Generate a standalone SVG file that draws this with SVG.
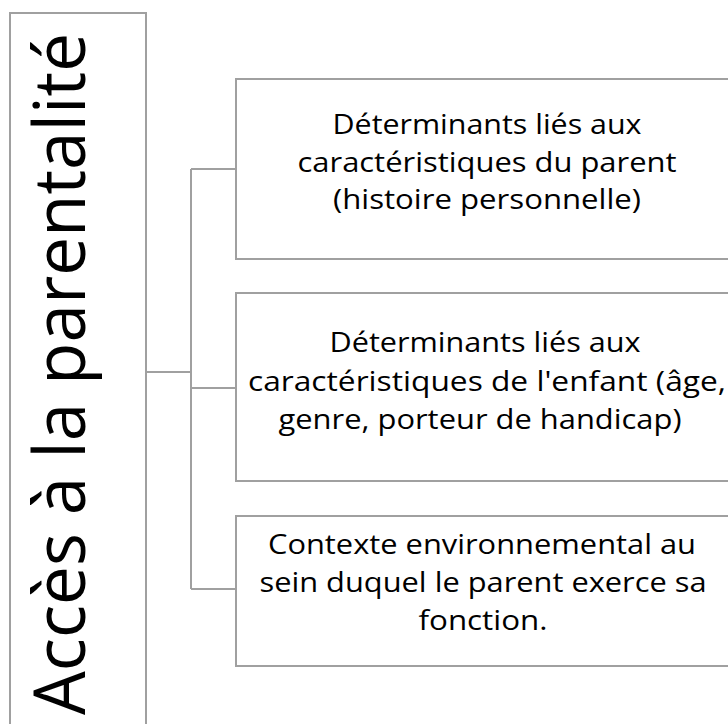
<svg xmlns="http://www.w3.org/2000/svg" width="728" height="724" viewBox="0 0 728 724">
<style>
.box{fill:#ffffff;stroke:#a0a0a0;stroke-width:2}
.conn{fill:none;stroke:#a0a0a0;stroke-width:2}
.t{font-family:"Open Sans","Liberation Sans",sans-serif;font-size:28px;fill:#000000;text-anchor:middle}
.big{font-family:"Open Sans","Liberation Sans",sans-serif;font-size:71px;fill:#000000;text-anchor:middle}
</style>
<rect width="728" height="724" fill="#ffffff"/>
<g id="root">
<rect class="box" x="10" y="13" width="136" height="730"/>
<text class="big" transform="translate(85,374) rotate(-90)" textLength="682" lengthAdjust="spacingAndGlyphs">Accès à la parentalité</text>
</g>
<g id="connectors">
<path class="conn" d="M146,372 H191 M191,169 V589 M191,169 H236 M191,388 H236 M191,589 H236"/>
</g>
<g id="node1">
<rect class="box" x="236" y="79" width="510" height="180"/>
<text class="t" x="487" y="134" textLength="309" lengthAdjust="spacingAndGlyphs">Déterminants liés aux</text>
<text class="t" x="487" y="172" textLength="379" lengthAdjust="spacingAndGlyphs">caractéristiques du parent</text>
<text class="t" x="487" y="209" textLength="308" lengthAdjust="spacingAndGlyphs">(histoire personnelle)</text>
</g>
<g id="node2">
<rect class="box" x="236" y="293" width="510" height="188"/>
<text class="t" x="485" y="352" textLength="311" lengthAdjust="spacingAndGlyphs">Déterminants liés aux</text>
<text class="t" x="487" y="391" textLength="478" lengthAdjust="spacingAndGlyphs">caractéristiques de l'enfant (âge,</text>
<text class="t" x="480" y="429" textLength="403" lengthAdjust="spacingAndGlyphs">genre, porteur de handicap)</text>
</g>
<g id="node3">
<rect class="box" x="236" y="516" width="510" height="150"/>
<text class="t" x="482" y="554" textLength="428" lengthAdjust="spacingAndGlyphs">Contexte environnemental au</text>
<text class="t" x="483" y="592" textLength="447" lengthAdjust="spacingAndGlyphs">sein duquel le parent exerce sa</text>
<text class="t" x="483" y="630" textLength="129" lengthAdjust="spacingAndGlyphs">fonction.</text>
</g>
</svg>
